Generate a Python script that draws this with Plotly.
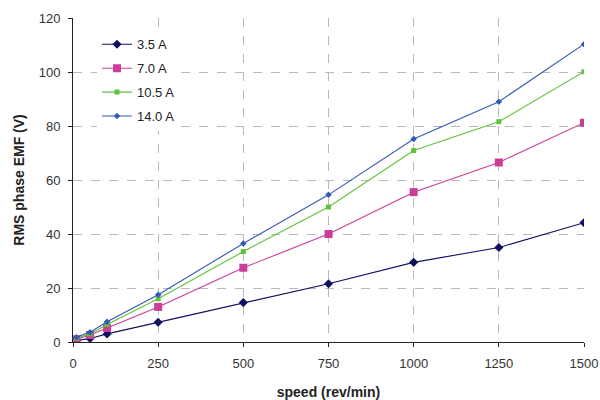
import plotly.graph_objects as go

speed = [10, 50, 100, 250, 500, 750, 1000, 1250, 1500]
emf_3_5 = [0.5, 1.3, 3.0, 7.3, 14.6, 21.6, 29.5, 35.0, 44.2]
emf_7_0 = [1.0, 2.6, 5.2, 13.0, 27.5, 40.0, 55.5, 66.5, 81.2]
emf_10_5 = [1.4, 3.0, 6.5, 16.0, 33.5, 50.0, 70.9, 81.6, 100.1]
emf_14_0 = [1.8, 3.6, 7.5, 17.5, 36.5, 54.5, 75.2, 89.0, 110.3]

series = [
    ("3.5 A", emf_3_5, "#101060", "diamond", 7),
    ("7.0 A", emf_7_0, "#cc3d99", "square", 8),
    ("10.5 A", emf_10_5, "#5cc43a", "square", 5),
    ("14.0 A", emf_14_0, "#3358b5", "diamond", 5),
]

fig = go.Figure()
for name, vals, col, sym, sz in series:
    fig.add_trace(go.Scatter(
        x=speed, y=vals, name=name, mode="lines+markers", legendgroup=name,
        line=dict(color=col, width=1.1),
        marker=dict(symbol=sym, size=sz, color=col),
    ))

axis_common = dict(
    showline=True, linecolor="#222222", linewidth=1,
    ticks="outside", ticklen=4, tickcolor="#222222",
    showgrid=True, gridcolor="#b8b8b8", griddash="dash", gridwidth=1,
    zeroline=False, tickfont=dict(family="Arial, Liberation Sans", size=13, color="#333333"),
    mirror=False, automargin=False, ticklabelstandoff=5,
)

fig.update_layout(
    width=600, height=400,
    margin=dict(l=73, r=16, t=18, b=58),
    paper_bgcolor="white", plot_bgcolor="white",
    font=dict(family="Arial, Liberation Sans", color="#222222"),
    xaxis=dict(range=[0, 1500], tickvals=[0, 250, 500, 750, 1000, 1250, 1500],
               title=dict(text="<b>speed (rev/min)</b>", font=dict(size=14, color="#222222"), standoff=17),
               **axis_common),
    yaxis=dict(range=[0, 120], tickvals=[0, 20, 40, 60, 80, 100, 120],
               title=dict(text="<b>RMS phase EMF (V)</b>", font=dict(size=14, color="#222222"), standoff=10),
               **axis_common),
    legend=dict(x=0.047, y=0.965, xanchor="left", yanchor="top",
                bgcolor="rgba(255,255,255,1)", borderwidth=0,
                font=dict(family="Arial, Liberation Sans", size=13, color="#222222"),
                itemwidth=30, tracegroupgap=4, traceorder="grouped"),
    showlegend=True,
)

fig.write_html("out.html", config={"displayModeBar": False},
               post_script="document.body.style.margin='0px';")
